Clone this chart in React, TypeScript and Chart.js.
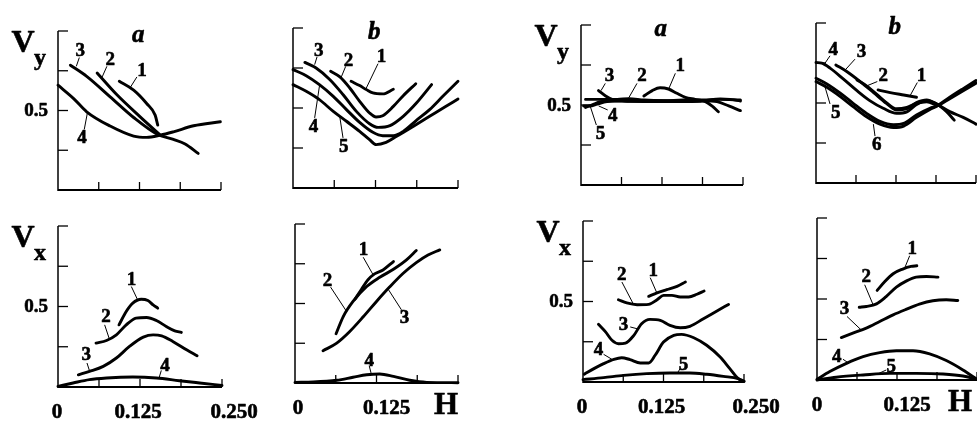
import React, { useEffect, useRef } from "react";
import { Chart, registerables } from "chart.js";
Chart.register(...registerables);

// ---------- tick values ----------
const X_TICKS = [0, 0.0625, 0.125, 0.1875, 0.25];
const Y_TICKS = [0, 0.25, 0.5, 0.75, 1];

// ---------- Panel 1: Vy, a (left group) ----------
const p1c1x = [0.094, 0.116, 0.136, 0.149, 0.153];
const p1c1y = [0.684, 0.628, 0.544, 0.471, 0.408];
const p1c2x = [0.06, 0.09, 0.126, 0.157];
const p1c2y = [0.736, 0.6, 0.46, 0.345];
const p1c3x = [0.019, 0.044, 0.08, 0.116, 0.152, 0.177, 0.195, 0.215];
const p1c3y = [0.785, 0.715, 0.586, 0.456, 0.351, 0.318, 0.289, 0.23];
const p1c4x = [0, 0.024, 0.044, 0.08, 0.116, 0.136, 0.157, 0.177, 0.208, 0.249];
const p1c4y = [0.659, 0.575, 0.492, 0.402, 0.339, 0.331, 0.345, 0.366, 0.404, 0.429];

// ---------- Panel 2: Vy, b (left group) ----------
const p2c1x = [0.088, 0.101, 0.111, 0.121, 0.136, 0.152];
const p2c1y = [0.667, 0.64, 0.615, 0.594, 0.588, 0.617];
const p2c2x = [0.057, 0.071, 0.086, 0.101, 0.116, 0.126, 0.136, 0.152, 0.167, 0.186];
const p2c2y = [0.729, 0.694, 0.625, 0.542, 0.469, 0.444, 0.452, 0.51, 0.577, 0.652];
const p2c3x = [0.018, 0.035, 0.056, 0.076, 0.096, 0.116, 0.129, 0.147, 0.167, 0.187, 0.21];
const p2c3y = [0.785, 0.75, 0.677, 0.583, 0.479, 0.402, 0.379, 0.39, 0.448, 0.531, 0.646];
const p2c4x = [0, 0.02, 0.04, 0.061, 0.081, 0.101, 0.121, 0.136, 0.152, 0.167, 0.187, 0.207, 0.227, 0.25];
const p2c4y = [0.74, 0.702, 0.646, 0.573, 0.49, 0.41, 0.348, 0.327, 0.327, 0.354, 0.423, 0.49, 0.573, 0.667];
const p2c5x = [0, 0.02, 0.04, 0.061, 0.081, 0.101, 0.116, 0.126, 0.141, 0.157, 0.182, 0.207, 0.23, 0.25];
const p2c5y = [0.646, 0.604, 0.552, 0.479, 0.417, 0.354, 0.302, 0.271, 0.285, 0.323, 0.385, 0.448, 0.506, 0.556];

// ---------- Panel 3: Vy, a (right group) ----------
const p3c1x = [0.097, 0.11, 0.122, 0.135, 0.148, 0.161, 0.176, 0.192, 0.202, 0.212];
const p3c1y = [0.556, 0.59, 0.608, 0.6, 0.573, 0.548, 0.535, 0.521, 0.494, 0.458];
const p3c2x = [0.007, 0.03, 0.056, 0.074, 0.097, 0.128, 0.158, 0.189, 0.215, 0.246];
const p3c2y = [0.535, 0.535, 0.535, 0.54, 0.531, 0.527, 0.531, 0.531, 0.535, 0.531];
const p3c3x = [0.027, 0.038, 0.048, 0.066, 0.097, 0.128, 0.158, 0.189, 0.21, 0.228, 0.246];
const p3c3y = [0.59, 0.556, 0.535, 0.527, 0.525, 0.525, 0.525, 0.527, 0.521, 0.494, 0.465];
const p3c4x = [0.007, 0.02, 0.03, 0.048, 0.076, 0.117, 0.158, 0.189, 0.215, 0.23, 0.246];
const p3c4y = [0.485, 0.506, 0.521, 0.527, 0.523, 0.521, 0.521, 0.527, 0.538, 0.535, 0.525];
const p3c5x = [0.004, 0.014, 0.025, 0.04, 0.066, 0.097, 0.13, 0.16, 0.185];
const p3c5y = [0.494, 0.494, 0.506, 0.521, 0.527, 0.527, 0.525, 0.523, 0.525];

// ---------- Panel 4: Vy, b (right group) ----------
const p4c1x = [0.097, 0.116, 0.137, 0.157];
const p4c1y = [0.582, 0.565, 0.55, 0.536];
const p4c2x = [0.064, 0.079, 0.095, 0.11, 0.126, 0.142, 0.157, 0.173, 0.189];
const p4c2y = [0.644, 0.607, 0.554, 0.502, 0.464, 0.473, 0.498, 0.508, 0.485];
const p4c3x = [0.031, 0.048, 0.069, 0.09, 0.11, 0.126, 0.142, 0.157, 0.173, 0.189, 0.209, 0.23, 0.25];
const p4c3y = [0.738, 0.697, 0.634, 0.565, 0.498, 0.456, 0.464, 0.502, 0.519, 0.492, 0.446, 0.41, 0.368];
const p4c4x = [0, 0.009, 0.022, 0.043, 0.064, 0.084, 0.105, 0.126, 0.142, 0.157, 0.173, 0.189, 0.204, 0.216];
const p4c4y = [0.753, 0.749, 0.718, 0.649, 0.577, 0.515, 0.467, 0.435, 0.444, 0.49, 0.515, 0.494, 0.446, 0.393];
const p4c5x = [0, 0.017, 0.038, 0.058, 0.079, 0.1, 0.121, 0.137, 0.157, 0.178, 0.189, 0.209, 0.23, 0.25];
const p4c5y = [0.655, 0.619, 0.561, 0.498, 0.435, 0.385, 0.364, 0.372, 0.425, 0.467, 0.481, 0.527, 0.577, 0.623];
const p4c6x = [0, 0.017, 0.038, 0.058, 0.079, 0.1, 0.121, 0.137, 0.157, 0.178, 0.189, 0.209, 0.23, 0.25];
const p4c6y = [0.634, 0.598, 0.54, 0.477, 0.414, 0.368, 0.347, 0.356, 0.41, 0.46, 0.481, 0.536, 0.59, 0.64];

// ---------- Panel 5: Vx, a (left group) ----------
const p5c1x = [0.093, 0.104, 0.114, 0.127, 0.137, 0.145, 0.152];
const p5c1y = [0.386, 0.469, 0.521, 0.545, 0.537, 0.51, 0.49];
const p5c2x = [0.058, 0.074, 0.089, 0.104, 0.119, 0.135, 0.15, 0.165, 0.178, 0.188];
const p5c2y = [0.273, 0.289, 0.324, 0.386, 0.428, 0.432, 0.413, 0.376, 0.349, 0.339];
const p5c3x = [0.031, 0.048, 0.069, 0.089, 0.109, 0.13, 0.145, 0.158, 0.175, 0.196, 0.212];
const p5c3y = [0.076, 0.097, 0.128, 0.18, 0.252, 0.31, 0.324, 0.318, 0.283, 0.231, 0.194];
const p5c4x = [0, 0.023, 0.048, 0.074, 0.114, 0.15, 0.185, 0.216, 0.25];
const p5c4y = [0.004, 0.025, 0.046, 0.056, 0.062, 0.056, 0.039, 0.025, 0.01];

// ---------- Panel 6: Vx, b (left group) ----------
const p6c1x = [0.092, 0.102, 0.112, 0.122, 0.135, 0.151];
const p6c1y = [0.527, 0.59, 0.649, 0.686, 0.711, 0.764];
const p6c2x = [0.063, 0.074, 0.089, 0.11, 0.13, 0.151, 0.171, 0.186];
const p6c2y = [0.31, 0.418, 0.513, 0.607, 0.665, 0.715, 0.774, 0.833];
const p6c3x = [0.043, 0.064, 0.084, 0.105, 0.125, 0.145, 0.166, 0.186, 0.204, 0.222];
const p6c3y = [0.203, 0.251, 0.324, 0.418, 0.513, 0.603, 0.69, 0.757, 0.805, 0.837];
const p6c4x = [0, 0.028, 0.064, 0.089, 0.11, 0.13, 0.151, 0.176, 0.202, 0.25];
const p6c4y = [0.004, 0.006, 0.017, 0.036, 0.052, 0.057, 0.042, 0.017, 0.004, 0.002];

// ---------- Panel 7: Vx, a (right group) ----------
const p7c1x = [0.102, 0.115, 0.13, 0.146, 0.159];
const p7c1y = [0.532, 0.553, 0.573, 0.594, 0.621];
const p7c2x = [0.055, 0.068, 0.084, 0.102, 0.115, 0.125, 0.138, 0.151, 0.164, 0.177, 0.188];
const p7c2y = [0.511, 0.491, 0.48, 0.482, 0.511, 0.538, 0.538, 0.528, 0.528, 0.545, 0.565];
const p7c3x = [0.024, 0.035, 0.045, 0.055, 0.066, 0.079, 0.091, 0.104, 0.12, 0.135, 0.151, 0.166, 0.187, 0.208, 0.226];
const p7c3y = [0.358, 0.311, 0.259, 0.238, 0.242, 0.29, 0.362, 0.389, 0.383, 0.352, 0.337, 0.346, 0.393, 0.441, 0.482];
const p7c4x = [0.002, 0.017, 0.032, 0.048, 0.06, 0.073, 0.089, 0.102, 0.112, 0.125, 0.141, 0.153, 0.172, 0.192, 0.213, 0.228, 0.241, 0.25];
const p7c4y = [0.048, 0.083, 0.114, 0.141, 0.151, 0.139, 0.118, 0.118, 0.166, 0.248, 0.29, 0.296, 0.275, 0.228, 0.155, 0.083, 0.021, 0.004];
const p7c5x = [0, 0.032, 0.063, 0.099, 0.135, 0.166, 0.192, 0.218, 0.241, 0.25];
const p7c5y = [0.015, 0.027, 0.041, 0.052, 0.056, 0.056, 0.048, 0.035, 0.021, 0.004];

// ---------- Panel 8: Vx, b (right group) ----------
const p8c1x = [0.094, 0.106, 0.119, 0.134, 0.147, 0.156];
const p8c1y = [0.553, 0.608, 0.656, 0.685, 0.701, 0.705];
const p8c2x = [0.066, 0.077, 0.093, 0.108, 0.124, 0.14, 0.155, 0.171, 0.189];
const p8c2y = [0.449, 0.454, 0.47, 0.515, 0.573, 0.612, 0.635, 0.639, 0.635];
const p8c3x = [0.038, 0.056, 0.077, 0.098, 0.119, 0.14, 0.16, 0.181, 0.202, 0.22];
const p8c3y = [0.262, 0.289, 0.32, 0.361, 0.402, 0.437, 0.468, 0.489, 0.495, 0.491];
const p8c4x = [0, 0.02, 0.046, 0.072, 0.098, 0.124, 0.15, 0.176, 0.202, 0.228, 0.25];
const p8c4y = [0.004, 0.052, 0.103, 0.144, 0.169, 0.181, 0.181, 0.161, 0.12, 0.062, 0.004];
const p8c5x = [0, 0.03, 0.072, 0.114, 0.155, 0.197, 0.228, 0.25];
const p8c5y = [0, 0.017, 0.031, 0.041, 0.041, 0.037, 0.025, 0.004];

// ---------- curve number labels (text, label x/y, leader from -> to) ----------
type Lbl = { t: string; x: number; y: number; a: number[] };
const p1Labels: Lbl[] = [
  { t: "3", x: 0.034, y: 0.879, a: [0.0327, 0.833, 0.0281, 0.778] },
  { t: "2", x: 0.08, y: 0.826, a: [0.075, 0.778, 0.0673, 0.707] },
  { t: "1", x: 0.129, y: 0.753, a: [0.121, 0.711, 0.1107, 0.644] },
  { t: "4", x: 0.037, y: 0.335, a: [0.0403, 0.381, 0.0454, 0.492] },
];
const p2Labels: Lbl[] = [
  { t: "3", x: 0.039, y: 0.865, a: [0.0364, 0.819, 0.0328, 0.771] },
  { t: "2", x: 0.084, y: 0.802, a: [0.0798, 0.76, 0.0732, 0.694] },
  { t: "1", x: 0.134, y: 0.823, a: [0.1288, 0.777, 0.1111, 0.625] },
  { t: "4", x: 0.031, y: 0.39, a: [0.0328, 0.438, 0.0404, 0.646] },
  { t: "5", x: 0.077, y: 0.26, a: [0.0758, 0.313, 0.0707, 0.45] },
];
const p3Labels: Lbl[] = [
  { t: "3", x: 0.044, y: 0.688, a: [0.0375, 0.635, 0.0309, 0.59] },
  { t: "2", x: 0.094, y: 0.688, a: [0.0864, 0.635, 0.0737, 0.545] },
  { t: "1", x: 0.153, y: 0.75, a: [0.1456, 0.698, 0.1353, 0.6] },
  { t: "4", x: 0.049, y: 0.438, a: [0.0412, 0.469, 0.0273, 0.494] },
  { t: "5", x: 0.03, y: 0.323, a: [0.0237, 0.375, 0.0144, 0.49] },
];
const p4Labels: Lbl[] = [
  { t: "4", x: 0.027, y: 0.837, a: [0.0219, 0.795, 0.0141, 0.749] },
  { t: "3", x: 0.071, y: 0.822, a: [0.0609, 0.774, 0.0453, 0.705] },
  { t: "2", x: 0.105, y: 0.676, a: [0.0958, 0.634, 0.0792, 0.607] },
  { t: "1", x: 0.165, y: 0.676, a: [0.1583, 0.628, 0.1469, 0.545] },
  { t: "5", x: 0.031, y: 0.446, a: [0.0219, 0.494, 0.0141, 0.6] },
  { t: "6", x: 0.095, y: 0.243, a: [0.0922, 0.293, 0.0896, 0.368] },
];
const p5Labels: Lbl[] = [
  { t: "1", x: 0.112, y: 0.669, a: [0.1118, 0.624, 0.1219, 0.537] },
  { t: "2", x: 0.073, y: 0.438, a: [0.0711, 0.386, 0.0787, 0.293] },
  { t: "3", x: 0.043, y: 0.207, a: [0.0442, 0.149, 0.0483, 0.097] },
  { t: "4", x: 0.163, y: 0.138, a: [0.1575, 0.103, 0.154, 0.056] },
];
const p6Labels: Lbl[] = [
  { t: "1", x: 0.105, y: 0.845, a: [0.1046, 0.791, 0.1199, 0.68] },
  { t: "2", x: 0.05, y: 0.649, a: [0.0546, 0.603, 0.0791, 0.45] },
  { t: "3", x: 0.168, y: 0.414, a: [0.1633, 0.46, 0.1429, 0.59] },
  { t: "4", x: 0.114, y: 0.146, a: [0.1138, 0.109, 0.1173, 0.052] },
];
const p7Labels: Lbl[] = [
  { t: "2", x: 0.06, y: 0.669, a: [0.0604, 0.621, 0.0785, 0.482] },
  { t: "1", x: 0.109, y: 0.694, a: [0.1044, 0.648, 0.1147, 0.553] },
  { t: "3", x: 0.063, y: 0.358, a: [0.0733, 0.342, 0.0847, 0.33] },
  { t: "4", x: 0.024, y: 0.207, a: [0.032, 0.172, 0.0449, 0.141] },
  { t: "5", x: 0.156, y: 0.114, a: [0.1508, 0.083, 0.1467, 0.056] },
];
const p8Labels: Lbl[] = [
  { t: "1", x: 0.149, y: 0.814, a: [0.1448, 0.767, 0.137, 0.691] },
  { t: "2", x: 0.077, y: 0.643, a: [0.0745, 0.588, 0.0875, 0.466] },
  { t: "3", x: 0.043, y: 0.443, a: [0.0469, 0.392, 0.0693, 0.308] },
  { t: "4", x: 0.031, y: 0.148, a: [0.0406, 0.128, 0.0484, 0.107] },
  { t: "5", x: 0.116, y: 0.087, a: [0.1083, 0.062, 0.0969, 0.041] },
];

// ---------- bottom tick labels ----------
type BL = { v: number; t: string; dx: number; big?: boolean };
const bottomA: BL[] = [
  { v: 0, t: "0", dx: -1 },
  { v: 0.125, t: "0.125", dx: -2 },
  { v: 0.25, t: "0.250", dx: 12 },
];
const bottomB: BL[] = [
  { v: 0, t: "0", dx: 3 },
  { v: 0.125, t: "0.125", dx: 10 },
  { v: 0.25, t: "H", dx: -12, big: true },
];
const bottomB2: BL[] = [
  { v: 0, t: "0", dx: 0 },
  { v: 0.125, t: "0.125", dx: 10 },
  { v: 0.25, t: "H", dx: -17, big: true },
];

type PanelCfg = {
  box: number[]; // left, top, right, bottom of plot area in page px
  curves: number[][][];
  labels: Lbl[];
  letter?: string;
  ylab?: string;
  show05?: boolean;
  bottom?: BL[];
};

const PANELS: PanelCfg[] = [
  { box: [58, 31, 221, 190], curves: [[p1c1x, p1c1y], [p1c2x, p1c2y], [p1c3x, p1c3y], [p1c4x, p1c4y]], labels: p1Labels, letter: "a", ylab: "y", show05: true },
  { box: [293, 28, 458, 188], curves: [[p2c1x, p2c1y], [p2c2x, p2c2y], [p2c3x, p2c3y], [p2c4x, p2c4y], [p2c5x, p2c5y]], labels: p2Labels, letter: "b" },
  { box: [581, 25, 743, 185], curves: [[p3c1x, p3c1y], [p3c2x, p3c2y], [p3c3x, p3c3y], [p3c4x, p3c4y], [p3c5x, p3c5y]], labels: p3Labels, letter: "a", ylab: "y", show05: true },
  { box: [816, 23, 976, 183], curves: [[p4c1x, p4c1y], [p4c2x, p4c2y], [p4c3x, p4c3y], [p4c4x, p4c4y], [p4c5x, p4c5y], [p4c6x, p4c6y]], labels: p4Labels, letter: "b" },
  { box: [58, 226, 222, 387], curves: [[p5c1x, p5c1y], [p5c2x, p5c2y], [p5c3x, p5c3y], [p5c4x, p5c4y]], labels: p5Labels, ylab: "x", show05: true, bottom: bottomA },
  { box: [295, 224, 458, 383], curves: [[p6c1x, p6c1y], [p6c2x, p6c2y], [p6c3x, p6c3y], [p6c4x, p6c4y]], labels: p6Labels, bottom: bottomB },
  { box: [583, 221, 744, 382], curves: [[p7c1x, p7c1y], [p7c2x, p7c2y], [p7c3x, p7c3y], [p7c4x, p7c4y], [p7c5x, p7c5y]], labels: p7Labels, ylab: "x", show05: true, bottom: bottomA },
  { box: [817, 218, 977, 380], curves: [[p8c1x, p8c1y], [p8c2x, p8c2y], [p8c3x, p8c3y], [p8c4x, p8c4y], [p8c5x, p8c5y]], labels: p8Labels, bottom: bottomB2 },
];

const SERIF = '"Liberation Serif", "Times New Roman", serif';
const PAD = { left: 60, top: 16, right: 45, bottom: 42 };

function decorPlugin(cfg: PanelCfg) {
  return {
    id: "decor",
    afterDraw(chart: any) {
      const { ctx, chartArea: ca } = chart;
      const xs = chart.scales.x;
      const ys = chart.scales.y;
      const x0 = xs.getPixelForValue(0);
      const y0 = ys.getPixelForValue(0);
      ctx.save();
      ctx.strokeStyle = "#000";
      ctx.fillStyle = "#000";
      ctx.lineCap = "butt";
      ctx.lineJoin = "round";
      const seg = (a: number, b: number, c: number, d: number, w: number) => {
        ctx.lineWidth = w;
        ctx.beginPath();
        ctx.moveTo(a, b);
        ctx.lineTo(c, d);
        ctx.stroke();
      };
      const text = (s: string, px: number, py: number) => {
        ctx.fillText(s, px, py);
        ctx.lineWidth = 0.6;
        ctx.strokeText(s, px, py);
      };
      // axes
      seg(x0, y0 + 1, x0, ys.getPixelForValue(1), 1.5);
      seg(x0, y0, xs.getPixelForValue(0.25), y0, 2.2);
      // inward ticks
      Y_TICKS.forEach((v) => {
        if (v === 0) return;
        const py = ys.getPixelForValue(v);
        seg(x0, py, x0 + 10, py, 1.3);
      });
      X_TICKS.forEach((v) => {
        if (v === 0) return;
        const px = xs.getPixelForValue(v);
        seg(px, y0, px, y0 - 8, 1.3);
      });
      // y tick label 0.5
      if (cfg.show05) {
        ctx.font = `bold 19px ${SERIF}`;
        ctx.textAlign = "right";
        ctx.textBaseline = "middle";
        text("0.5", x0 - 10, ys.getPixelForValue(0.5) + 1);
      }
      // bottom labels
      if (cfg.bottom) {
        cfg.bottom.forEach((b) => {
          ctx.font = b.big ? `bold 31px ${SERIF}` : `bold 21px ${SERIF}`;
          ctx.textAlign = "center";
          ctx.textBaseline = "alphabetic";
          text(b.t, xs.getPixelForValue(b.v) + b.dx, y0 + 31);
        });
      }
      // axis name V_y / V_x
      if (cfg.ylab) {
        ctx.textAlign = "center";
        ctx.textBaseline = "alphabetic";
        ctx.font = `bold 32px ${SERIF}`;
        text("V", ca.left - 35, ca.top + 21);
        ctx.font = `bold 24px ${SERIF}`;
        text(cfg.ylab, ca.left - 18, ca.top + 34);
      }
      // panel letter
      if (cfg.letter) {
        ctx.textAlign = "center";
        ctx.textBaseline = "alphabetic";
        ctx.font = `italic bold 25px ${SERIF}`;
        text(cfg.letter, xs.getPixelForValue(0.123), ca.top + 10.5);
      }
      // curve labels
      cfg.labels.forEach((l) => {
        seg(
          xs.getPixelForValue(l.a[0]),
          ys.getPixelForValue(l.a[1]),
          xs.getPixelForValue(l.a[2]),
          ys.getPixelForValue(l.a[3]),
          1
        );
        ctx.font = `bold 19px ${SERIF}`;
        ctx.textAlign = "center";
        ctx.textBaseline = "middle";
        text(l.t, xs.getPixelForValue(l.x), ys.getPixelForValue(l.y) + 1);
      });
      ctx.restore();
    },
  };
}

function Panel({ cfg }: { cfg: PanelCfg }) {
  const ref = useRef<HTMLCanvasElement>(null);
  const [l, t, r, b] = cfg.box;
  const w = r - l + PAD.left + PAD.right;
  const h = b - t + PAD.top + PAD.bottom;
  useEffect(() => {
    if (!ref.current) return;
    const chart = new Chart(ref.current, {
      type: "line",
      data: {
        datasets: cfg.curves.map(([cx, cy]) => ({
          data: cx.map((x, i) => ({ x, y: cy[i] })),
          borderColor: "#000",
          borderWidth: 2.9,
          pointRadius: 0,
          fill: false,
          cubicInterpolationMode: "monotone" as const,
          clip: false as any,
          borderCapStyle: "round" as const,
        })),
      },
      options: {
        responsive: false,
        animation: false,
        events: [],
        layout: { padding: PAD },
        scales: {
          x: { type: "linear", min: 0, max: 0.25, display: false },
          y: { type: "linear", min: 0, max: 1, display: false },
        },
        plugins: { legend: { display: false }, tooltip: { enabled: false } },
      },
      plugins: [decorPlugin(cfg)],
    });
    return () => chart.destroy();
  }, []);
  return (
    <canvas
      ref={ref}
      width={w}
      height={h}
      style={{ position: "absolute", left: l - PAD.left, top: t - PAD.top, width: w, height: h }}
    />
  );
}

export default function App() {
  return (
    <div
      style={{
        position: "fixed",
        left: 0,
        top: 0,
        width: 977,
        height: 423,
        overflow: "hidden",
        background: "#fff",
      }}
    >
      {PANELS.map((p, i) => (
        <Panel key={i} cfg={p} />
      ))}
    </div>
  );
}
